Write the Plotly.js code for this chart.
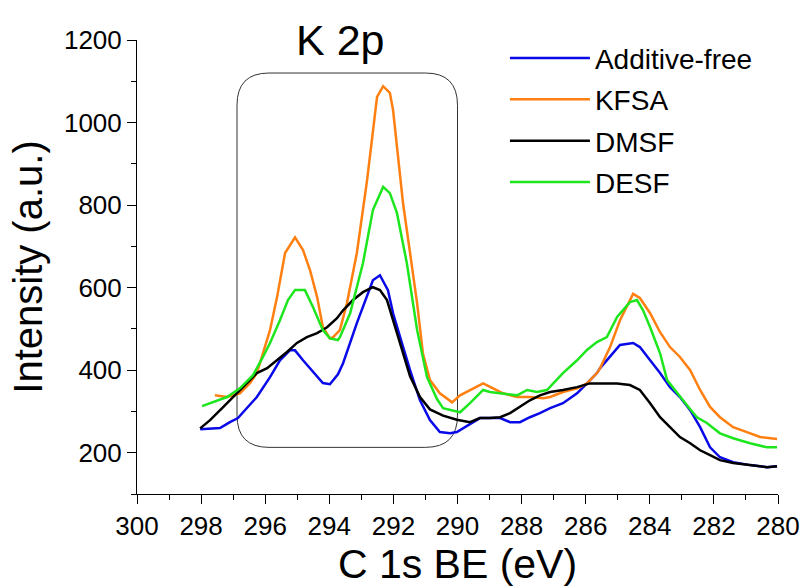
<!DOCTYPE html>
<html>
<head>
<meta charset="utf-8">
<script src="https://cdn.plot.ly/plotly-3.0.1.min.js"></script>
<style>html,body{margin:0;padding:0;background:#fff;}#chart{width:804px;height:588px;}</style>
</head>
<body>
<div id="chart"></div>
<script>
// Series names
const seriesNames = ["Additive-free", "KFSA", "DMSF", "DESF"];

// Additive-free (blue)
const blueX = [298.03,297.41,297.10,296.85,296.69,296.26,295.85,295.54,295.23,295.07,294.82,294.38,294.20,293.98,293.73,293.57,293.14,292.64,292.42,292.17,292.01,291.79,291.48,291.17,290.86,290.55,290.23,290.02,289.92,289.30,288.67,288.36,288.05,287.74,287.43,287.11,286.71,286.27,285.96,285.65,285.55,285.24,284.93,284.52,284.31,283.99,283.68,283.37,283.06,282.74,282.43,282.12,281.81,281.40,280.87,280.34,280.03];
const blueY = [257,260,274,284,298,335,383,424,448,448,424,383,369,366,390,417,514,618,630,594,538,480,400,327,279,250,247,250,255,284,284,274,274,286,296,308,320,344,368,393,405,432,461,466,456,424,393,359,335,303,262,213,189,177,170,165,167];

// KFSA (orange)
const orangeX = [297.57,297.19,296.79,296.47,296.26,296.07,295.85,295.63,295.38,295.07,294.82,294.60,294.38,294.20,293.98,293.88,293.67,293.45,293.14,292.82,292.51,292.32,292.11,292.01,291.86,291.70,291.48,291.26,291.08,290.86,290.55,290.17,289.92,289.61,289.20,288.89,288.58,288.14,287.74,287.33,287.11,286.71,286.27,285.96,285.65,285.55,285.24,284.93,284.62,284.52,284.31,283.99,283.68,283.37,283.06,282.74,282.43,282.12,281.81,281.40,280.97,280.56,280.03];
const orangeY = [339,335,344,369,393,441,497,577,684,722,691,642,577,504,477,480,497,562,684,861,1062,1088,1072,1030,926,805,684,562,441,376,344,322,339,352,368,356,344,335,335,332,335,347,356,368,393,405,456,521,570,585,575,538,492,456,432,400,352,311,286,262,250,238,233];

// DMSF (black)
const blackX = [298.03,297.72,297.32,296.94,296.57,296.26,295.94,295.63,295.32,295.01,294.70,294.38,294.07,293.76,293.57,293.26,292.95,292.64,292.42,292.20,292.01,291.79,291.48,291.17,290.86,290.45,290.02,289.61,289.30,288.99,288.67,288.36,288.05,287.74,287.43,287.11,286.71,286.27,285.87,285.46,285.02,284.62,284.31,283.99,283.68,283.37,283.06,282.74,282.43,282.12,281.81,281.40,280.87,280.34,280.03];
const blackY = [259,279,310,339,369,393,405,424,444,466,480,490,504,526,545,570,589,601,594,570,521,466,385,335,305,290,280,274,284,284,286,296,311,327,339,347,352,359,368,368,368,364,352,320,286,262,238,223,206,194,182,175,170,165,167];

// DESF (green)
const greenX = [297.97,297.50,297.19,296.79,296.38,296.07,295.85,295.54,295.29,295.07,294.76,294.51,294.20,293.98,293.73,293.67,293.35,292.95,292.64,292.32,292.11,291.89,291.58,291.26,290.95,290.64,290.45,290.02,289.92,289.61,289.20,288.99,288.58,288.14,287.83,287.52,287.21,287.02,286.71,286.27,285.96,285.65,285.34,285.02,284.62,284.40,284.21,283.99,283.68,283.46,283.15,282.84,282.53,282.22,281.81,281.40,280.87,280.34,280.03];
const greenY = [313,327,335,356,388,432,466,521,570,594,594,553,497,477,473,480,538,659,788,844,829,781,659,497,383,330,308,300,298,320,352,347,344,339,352,347,352,368,393,424,449,468,480,529,565,570,545,504,441,376,344,315,286,272,247,235,223,213,213];

// Axis ticks
const xTickVals = [300,298,296,294,292,290,288,286,284,282,280];
const xTickText = ["300","298","296","294","292","290","288","286","284","282","280"];
const yTickVals = [200,400,600,800,1000,1200];
const yTickText = ["200","400","600","800","1000","1200"];

const colors = ["#0a0ae8", "#ff7f10", "#000000", "#1ee61e"];
const xs = [blueX, orangeX, blackX, greenX];
const ys = [blueY, orangeY, blackY, greenY];

const traces = seriesNames.map((n, i) => ({
  x: xs[i], y: ys[i], name: n, type: "scatter", mode: "lines",
  legendgroup: "g" + i,
  line: {color: colors[i], width: 2.5}
}));

// rounded box around the K 2p region
const bx0 = 296.88, bx1 = 290.0, by0 = 213, by1 = 1120, rx = 1.0, ry = 78;
const boxPath = `M ${bx0 - rx},${by1} L ${bx1 + rx},${by1} Q ${bx1},${by1} ${bx1},${by1 - ry} ` +
  `L ${bx1},${by0 + ry} Q ${bx1},${by0} ${bx1 + rx},${by0} L ${bx0 - rx},${by0} ` +
  `Q ${bx0},${by0} ${bx0},${by0 + ry} L ${bx0},${by1 - ry} Q ${bx0},${by1} ${bx0 - rx},${by1} Z`;

const font = "Liberation Sans, Arial, sans-serif";
const layout = {
  width: 804, height: 588,
  margin: {l: 137, r: 26, t: 40, b: 94},
  paper_bgcolor: "#fff", plot_bgcolor: "#fff",
  font: {family: font, color: "#000"},
  showlegend: true,
  legend: {x: 0.574, y: 1.015, xanchor: "left", yanchor: "top", bgcolor: "rgba(0,0,0,0)",
           font: {size: 28, family: font}, traceorder: "grouped", tracegroupgap: 2, itemwidth: 80},
  xaxis: {
    range: [300, 280], autorange: false,
    tickvals: xTickVals, ticktext: xTickText,
    ticks: "outside", ticklen: 9, tickwidth: 1, tickcolor: "#000",
    minor: {dtick: 1, ticks: "outside", ticklen: 5, tickcolor: "#000", showgrid: false},
    showline: true, linecolor: "#000", linewidth: 1, showgrid: false, zeroline: false,
    tickfont: {size: 26, family: font},
    title: {text: "C 1s BE (eV)", font: {size: 41, family: font}, standoff: 8}
  },
  yaxis: {
    range: [100, 1200], autorange: false,
    tickvals: yTickVals, ticktext: yTickText,
    ticks: "outside", ticklen: 9, tickwidth: 1, tickcolor: "#000",
    minor: {dtick: 100, ticks: "outside", ticklen: 5, tickcolor: "#000", showgrid: false},
    showline: true, linecolor: "#000", linewidth: 1, showgrid: false, zeroline: false,
    tickfont: {size: 26, family: font},
    title: {text: "Intensity (a.u.)", font: {size: 40, family: font}, standoff: 8}
  },
  shapes: [{type: "path", xref: "x", yref: "y", path: boxPath,
            line: {color: "#333", width: 1}, fillcolor: "rgba(0,0,0,0)", layer: "below"}],
  annotations: [{text: "K 2p", xref: "paper", yref: "paper", x: 0.317, y: 1.0,
                 xanchor: "center", yanchor: "middle", showarrow: false,
                 font: {size: 43, family: font, color: "#000"}}]
};

Plotly.newPlot("chart", traces, layout, {displayModeBar: false, staticPlot: true});
</script>
</body>
</html>
